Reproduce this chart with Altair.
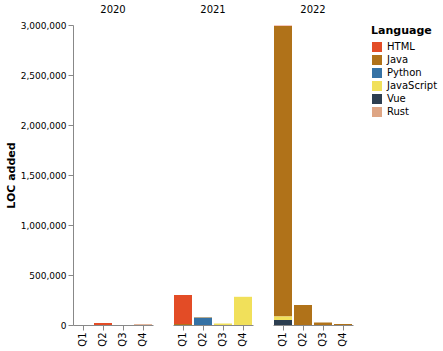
import altair as alt
import pandas as pd

years = ["2020", "2021", "2022"]
quarters = ["Q1", "Q2", "Q3", "Q4"]
languages = ["HTML", "Java", "Python", "JavaScript", "Vue", "Rust"]
colors = ["#e34c26", "#b07219", "#3572A5", "#f1e05a", "#2c3e50", "#dea584"]

# values per language, ordered 2020 Q1..Q4, 2021 Q1..Q4, 2022 Q1..Q4
html = [0, 20000, 0, 0, 290000, 0, 0, 0, 3000, 0, 0, 0]
java = [0, 0, 0, 0, 10000, 5000, 0, 0, 2905000, 200000, 25000, 10000]
python = [0, 0, 0, 0, 0, 72000, 0, 0, 0, 0, 0, 0]
javascript = [0, 0, 0, 0, 0, 0, 15000, 282000, 35000, 0, 0, 0]
vue = [0, 0, 0, 0, 0, 0, 0, 0, 50000, 0, 0, 0]
rust = [0, 0, 0, 8000, 0, 0, 0, 0, 0, 0, 0, 0]

series = {"HTML": html, "Java": java, "Python": python,
          "JavaScript": javascript, "Vue": vue, "Rust": rust}

rows = []
for lang, vals in series.items():
    i = 0
    for y in years:
        for q in quarters:
            rows.append({"year": y, "quarter": q, "language": lang, "loc": vals[i]})
            i += 1
df = pd.DataFrame(rows)

chart = alt.Chart(df).mark_bar().encode(
    x=alt.X("quarter:N", title=None, sort=quarters, axis=alt.Axis(labelAngle=270)),
    y=alt.Y("sum(loc):Q", title="LOC added", axis=alt.Axis(labelFontSize=9)),
    color=alt.Color("language:N",
                    scale=alt.Scale(domain=languages, range=colors),
                    legend=alt.Legend(title="Language")),
).properties(width=80, height=300).facet(
    column=alt.Column("year:N", title=None, sort=years)
).configure(font="DejaVu Sans").configure_view(stroke=None).configure_axis(grid=False)

chart.save("out.html", embed_options={"renderer": "svg", "actions": False})
